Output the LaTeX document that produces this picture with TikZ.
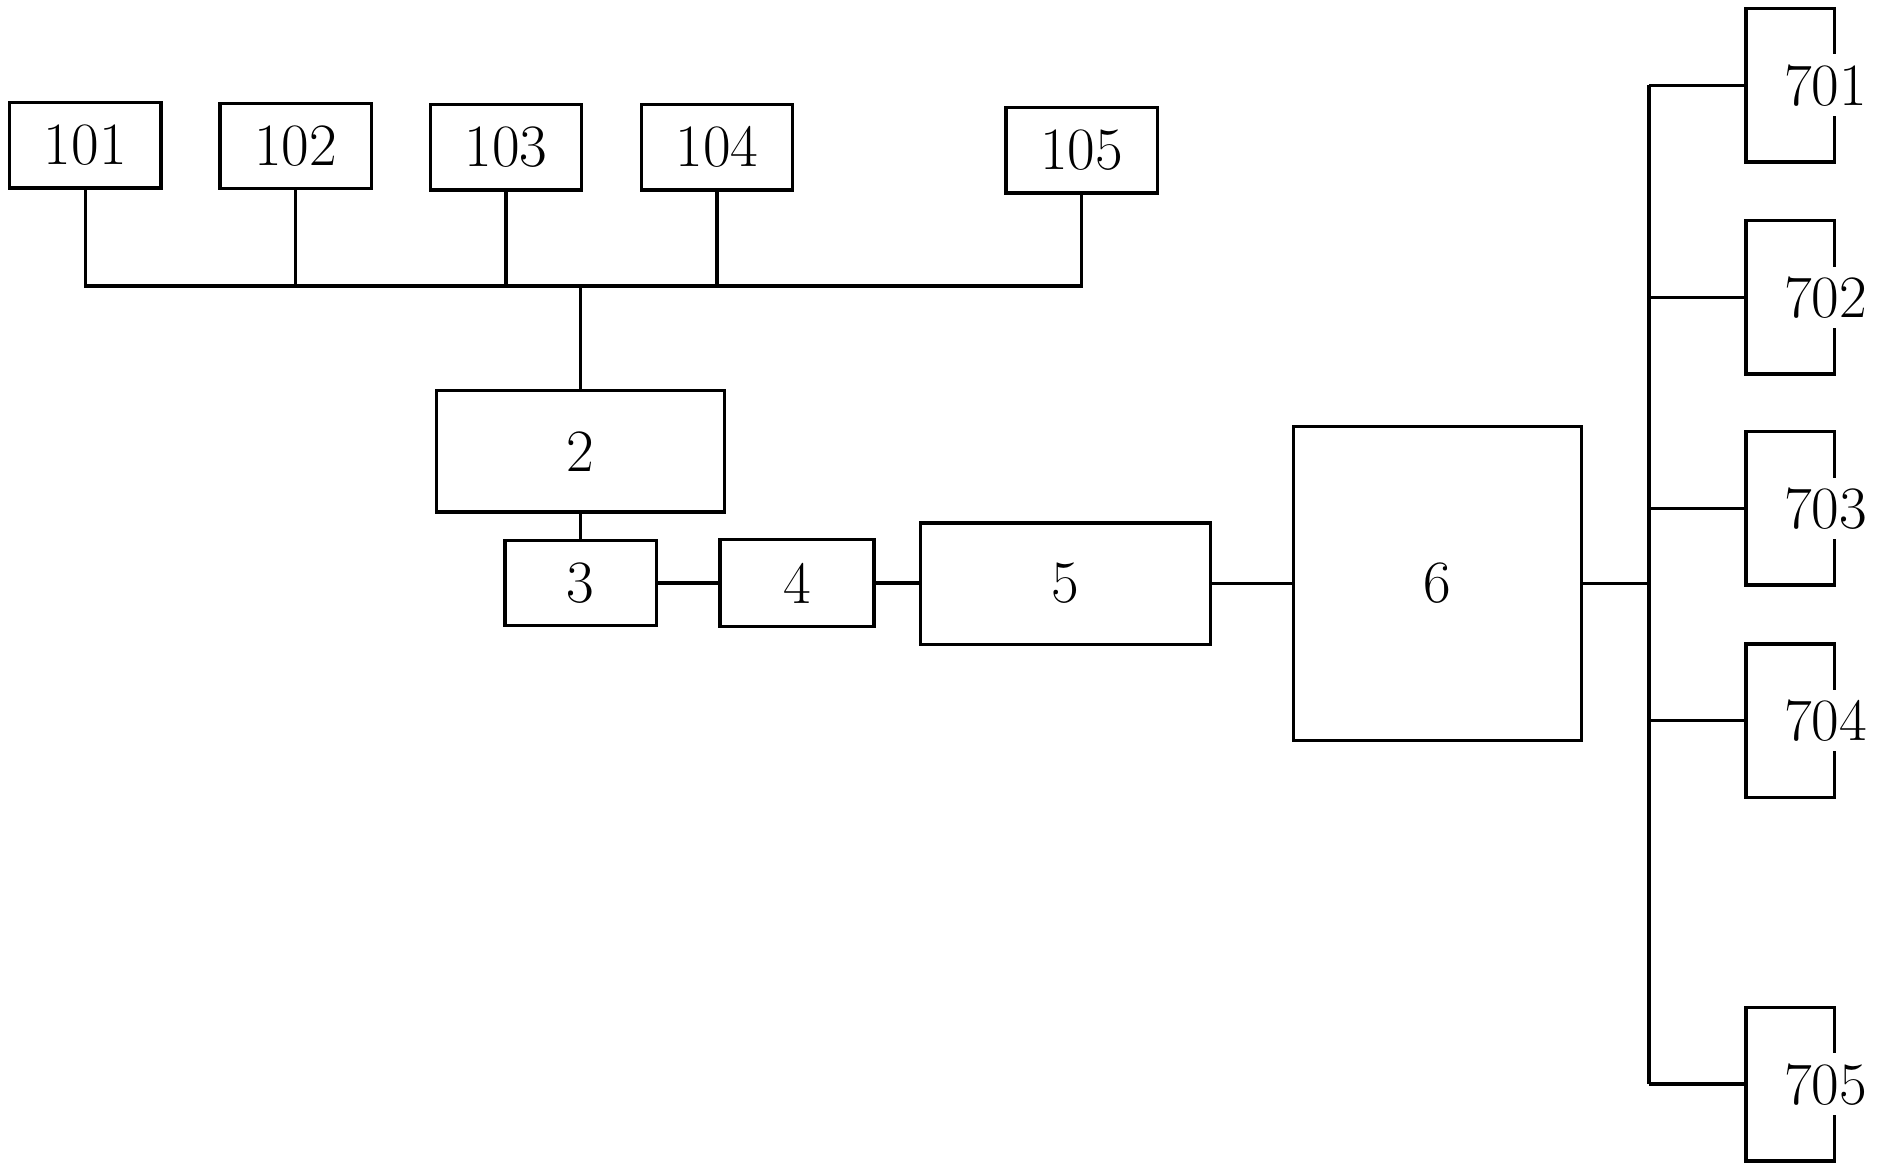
\documentclass[tikz,border=0pt]{standalone}
\begin{document}
\begin{tikzpicture}[x=0.6pt,y=-0.6pt,
  box/.style={draw,line width=1.7pt,inner sep=0pt,font=\fontsize{30}{34}\selectfont},
  sbox/.style={box,minimum width=75.6pt,minimum height=42.6pt},
  obox/.style={inner sep=0pt,minimum width=43.8pt,minimum height=76.2pt},
  olab/.style={fill=white,inner xsep=0pt,inner ysep=5pt,font=\fontsize{30}{34}\selectfont},
  wire/.style={line width=1.7pt}]
\useasboundingbox (0,0) rectangle (1565,975);
% top row
\node[sbox] (n101) at (71,121) {101};
\node[sbox] (n102) at (246,121.5) {102};
\node[sbox] (n103) at (421,122.5) {103};
\node[sbox] (n104) at (596.5,122.5) {104};
\node[sbox] (n105) at (900,125) {105};
\coordinate (bus) at (483,238);
% middle chain
\node[box,minimum width=144pt,minimum height=60.6pt] (n2) at (483,375.5) {2};
\node[sbox] (n3) at (483,485) {3};
\node[box,minimum width=76.8pt,minimum height=43.2pt] (n4) at (663,485) {4};
\node[box,minimum width=144.6pt,minimum height=60.6pt] (n5) at (886.5,485.5) {5};
\node[box,minimum width=144pt,minimum height=156.6pt] (n6) at (1196,485.5) {6};
% right column
\foreach \n/\y in {701/71,702/247.5,703/423,704/599.5,705/902}{
  \node[obox] (n\n) at (1489.5,\y) {};
  \draw[wire] (n\n.north west) rectangle (n\n.south east);
  \node[olab] (t\n) at (1519,\y) {\n};
}
\coordinate (vbus) at (1372,485.5);
% wires top
\draw[wire] (n101.south) -- (n101.south |- bus) -- (n105.south |- bus) -- (n105.south);
\foreach \n in {102,103,104}{
  \draw[wire] (n\n.south) -- (n\n.south |- bus);
}
\draw[wire] (bus) -- (n2.north);
\draw[wire] (n2.south) -- (n3.north);
\draw[wire] (n3.east) -- (n3.east -| n4.west);
\draw[wire] (n4.east) -- (n4.east -| n5.west);
\draw[wire] (n5.east) -- (n5.east -| n6.west);
\draw[wire] (n6.east) -- (vbus);
\draw[wire] (n701.west -| vbus) -- (n705.west -| vbus);
\foreach \n in {701,702,703,704,705}{
  \draw[wire] (n\n.west -| vbus) -- (n\n.west);
}
\end{tikzpicture}
\end{document}
